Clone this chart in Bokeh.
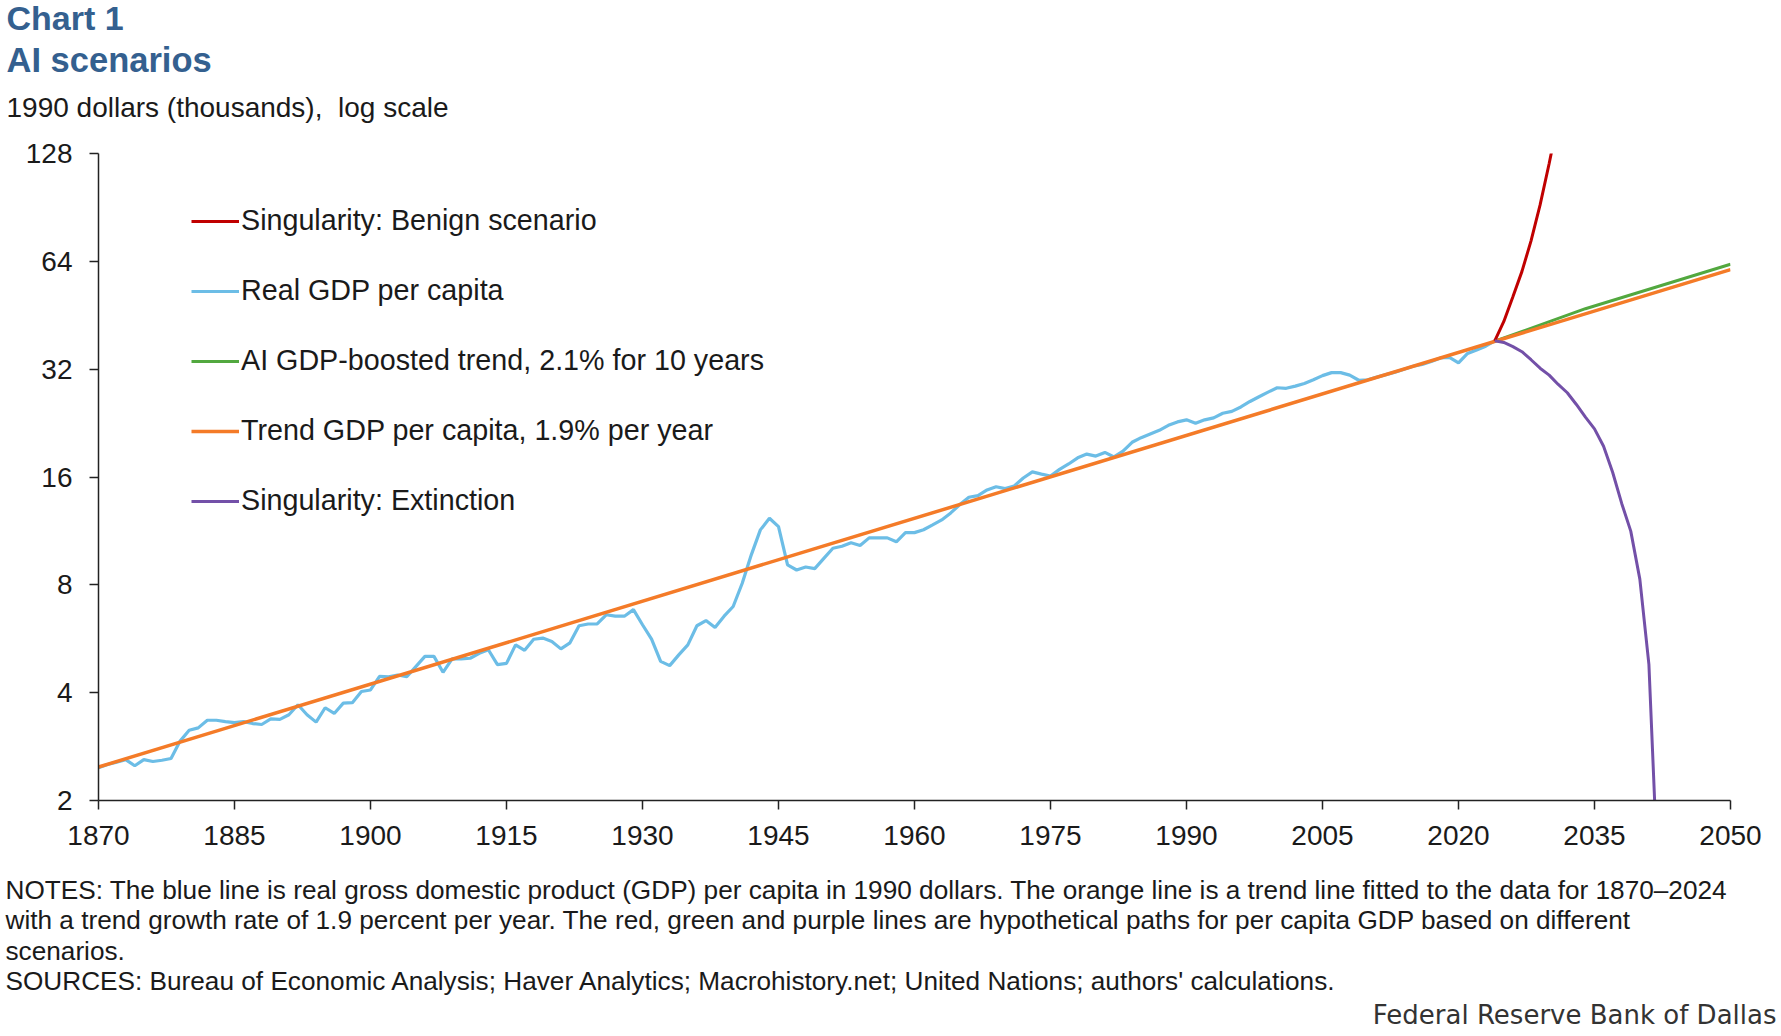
from bokeh.plotting import figure
from bokeh.models import (Range1d, FixedTicker, PrintfTickFormatter, Label,
                          Legend, LegendItem)
from bokeh.embed import file_html
from bokeh.resources import INLINE

# ---- data (1990 dollars, thousands) ----
years = list(range(1870, 2025))
real_gdp = [
    2.47, 2.52, 2.56, 2.60, 2.50, 2.60, 2.57, 2.59, 2.62, 2.93,   # 1870s
    3.14, 3.19, 3.35, 3.35, 3.32, 3.30, 3.32, 3.28, 3.26, 3.38,   # 1880s
    3.37, 3.47, 3.70, 3.47, 3.31, 3.63, 3.50, 3.74, 3.75, 4.03,   # 1890s
    4.07, 4.44, 4.43, 4.48, 4.43, 4.73, 5.05, 5.05, 4.56, 4.97,   # 1900s
    4.97, 4.99, 5.15, 5.27, 4.79, 4.83, 5.44, 5.25, 5.64, 5.68,   # 1910s
    5.56, 5.30, 5.51, 6.15, 6.22, 6.22, 6.60, 6.54, 6.54, 6.82,   # 1920s
    6.19, 5.64, 4.89, 4.76, 5.10, 5.44, 6.15, 6.36, 6.08, 6.54,   # 1930s
    6.96, 8.08, 9.70, 11.39, 12.27, 11.63, 9.09, 8.80, 8.97, 8.88,  # 1940s
    9.48, 10.12, 10.25, 10.49, 10.30, 10.82, 10.82, 10.82, 10.55, 11.19,  # 1950s
    11.19, 11.40, 11.76, 12.14, 12.70, 13.40, 14.05, 14.20, 14.72, 15.03,  # 1960s
    14.85, 15.10, 15.90, 16.53, 16.30, 16.10, 16.80, 17.40, 18.10, 18.54,  # 1970s
    18.30, 18.74, 18.20, 18.90, 20.00, 20.60, 21.10, 21.60, 22.30, 22.80,  # 1980s
    23.10, 22.60, 23.10, 23.40, 24.10, 24.40, 25.10, 26.00, 26.80, 27.60,  # 1990s
    28.40, 28.30, 28.70, 29.20, 29.90, 30.70, 31.30, 31.30, 30.80, 29.80,  # 2000s
    29.90, 30.40, 30.90, 31.40, 32.00, 32.60, 33.00, 33.60, 34.40, 34.50,  # 2010s
    33.30, 35.40, 36.20, 37.10, 38.40,                               # 2020s
]

trend_years = [1870, 2050]
trend_gdp = [2.48, 60.7]

boost_years = [2024, 2034, 2050]
boost_gdp = [38.3, 47.2, 62.8]

benign_years = [2024, 2025, 2026, 2027, 2028, 2029, 2030, 2031]
benign_gdp = [38.4, 43.5, 51.0, 60.0, 73.0, 92.0, 120.0, 160.0]

extinct_years = list(range(2024, 2043))
extinct_gdp = [38.4, 38.0, 37.0, 35.8, 34.0, 32.2, 30.8, 29.0, 27.5, 25.5,
               23.5, 21.8, 19.5, 16.5, 13.5, 11.3, 8.3, 4.8, 1.2]

x_ticks = list(range(1870, 2051, 15))
y_ticks = [2, 4, 8, 16, 32, 64, 128]

FONT = "Liberation Sans"
TEXT = "#1a1a1a"
TITLE_BLUE = "#34608F"
W = 1778


def text_panel(h):
    # blank figure whose frame is the whole canvas, 1 data unit = 1 px
    f = figure(width=W, height=h, x_range=Range1d(0, W), y_range=Range1d(0, h),
               output_backend="svg", toolbar_location=None, min_border=0,
               x_axis_location=None, y_axis_location=None)
    f.outline_line_color = None
    f.grid.visible = False
    return f


def add_text(f, txt, x, y, size, bold=False, color=TEXT, align="left", font=FONT):
    f.add_layout(Label(x=x, y=y, text=txt, text_font=font, text_font_size=size,
                       text_font_style="bold" if bold else "normal",
                       text_color=color, text_align=align,
                       text_baseline="alphabetic"))


# ---- header ----
head = text_panel(138)
add_text(head, "Chart 1", 6, 121, "34px", bold=True, color=TITLE_BLUE)
add_text(head, "AI scenarios", 6, 79, "34.5px", bold=True, color=TITLE_BLUE)
add_text(head, "1990 dollars (thousands),\u00a0 log scale", 6, 31.3, "28px")

# ---- chart ----
p = figure(width=W, height=722, y_axis_type="log",
           x_range=Range1d(1870, 2050), y_range=Range1d(2, 128),
           output_backend="svg", toolbar_location=None,
           min_border_left=98, min_border_right=48,
           min_border_top=15, min_border_bottom=60)
p.outline_line_color = None
p.xgrid.grid_line_color = None
p.ygrid.grid_line_color = None

for ax in (p.xaxis, p.yaxis):
    ax.axis_line_color = "#222222"
    ax.axis_line_width = 1.5
    ax.major_tick_line_color = "#222222"
    ax.major_tick_line_width = 1.5
    ax.major_tick_out = 9
    ax.major_tick_in = 0
    ax.minor_tick_out = 0
    ax.minor_tick_in = 0
    ax.major_label_text_font = FONT
    ax.major_label_text_font_size = "28px"
    ax.major_label_text_color = TEXT

p.xaxis.ticker = FixedTicker(ticks=x_ticks)
p.xaxis.major_label_standoff = 16
p.yaxis.ticker = FixedTicker(ticks=y_ticks, minor_ticks=[])
p.yaxis.formatter = PrintfTickFormatter(format="%d")
p.yaxis.major_label_standoff = 17

r_blue = p.line(years, real_gdp, line_color="#6CBDE6", line_width=3.2)
r_green = p.line(boost_years, boost_gdp, line_color="#52A83F", line_width=3)
r_orange = p.line(trend_years, trend_gdp, line_color="#F47B28", line_width=3.5)
r_red = p.line(benign_years, benign_gdp, line_color="#C00000", line_width=3)
r_purple = p.line(extinct_years, extinct_gdp, line_color="#7350A8", line_width=3)

legend = Legend(items=[
    LegendItem(label="Singularity: Benign scenario", renderers=[r_red]),
    LegendItem(label="Real GDP per capita", renderers=[r_blue]),
    LegendItem(label="AI GDP-boosted trend, 2.1% for 10 years", renderers=[r_green]),
    LegendItem(label="Trend GDP per capita, 1.9% per year", renderers=[r_orange]),
    LegendItem(label="Singularity: Extinction", renderers=[r_purple]),
], location=(93, 283))
legend.label_text_font = FONT
legend.label_text_font_size = "28.7px"
legend.label_text_color = TEXT
legend.glyph_width = 48
legend.glyph_height = 30
legend.label_height = 30
legend.label_standoff = 2
legend.spacing = 37
legend.padding = 0
legend.margin = 0
legend.border_line_color = None
legend.background_fill_alpha = 0
p.add_layout(legend)

# ---- footer ----
foot = text_panel(174)
notes = [
    "NOTES: The blue line is real gross domestic product (GDP) per capita in 1990 dollars. "
    "The orange line is a trend line fitted to the data for 1870\u20132024",
    "with a trend growth rate of 1.9 percent per year. The red, green and purple lines "
    "are hypothetical paths for per capita GDP based on different",
    "scenarios.",
    "SOURCES: Bureau of Economic Analysis; Haver Analytics; Macrohistory.net; "
    "United Nations; authors' calculations.",
]
for i, line in enumerate(notes):
    add_text(foot, line, 5, 144.5 - 30.3 * i, "26.2px")
add_text(foot, "Federal Reserve Bank of Dallas", 1776, 20, "26px", color="#333333",
         align="right", font="DejaVu Sans")

# three separate roots, stacked on the page
open("out.html", "w").write(file_html([head, p, foot], INLINE))
